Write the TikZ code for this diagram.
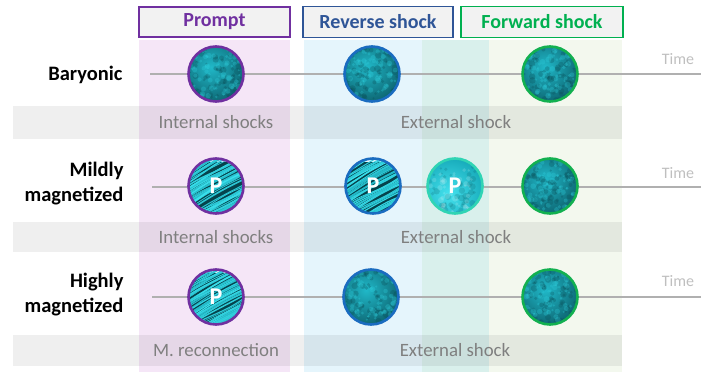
\documentclass[tikz,border=0pt]{standalone}
\usepackage{fontspec}
\setmainfont{Carlito}
\definecolor{hdrfill}{HTML}{F2F2F2}
\definecolor{cPurple}{HTML}{7030A0}
\definecolor{cBlueT}{HTML}{2F5597}
\definecolor{cGreenT}{HTML}{00B050}
\definecolor{ringPurple}{HTML}{7030A0}
\definecolor{ringBlue}{HTML}{1A6CC0}
\definecolor{ringGreen}{HTML}{12B050}
\definecolor{ringTeal}{HTML}{30D4B4}
\definecolor{bandPurple}{HTML}{F5E6F7}
\definecolor{bandBlue}{HTML}{E5F5FC}
\definecolor{bandTeal}{HTML}{D9F0EC}
\definecolor{bandGreen}{HTML}{F3F8EE}
\definecolor{labgray}{HTML}{7F7F7F}
\definecolor{timegray}{HTML}{BFBFBF}
\definecolor{linegray}{HTML}{B0B0B0}
\definecolor{cloudIn}{HTML}{20B8C8}
\definecolor{cloudOut}{HTML}{0B5C68}
\definecolor{cloudLight}{HTML}{2FD0DE}
\definecolor{brightIn}{HTML}{45E2EE}
\definecolor{brightOut}{HTML}{13A6B6}
\definecolor{fibDark}{HTML}{06434C}
\definecolor{fibLight}{HTML}{3AE0EC}
\definecolor{fibMid}{HTML}{1399AA}
\begin{document}
\begin{tikzpicture}[x=1pt,y=-1pt,
  hdr/.style={draw=#1, text=#1, line width=1.3pt, fill=hdrfill,
    font=\fontsize{20}{24}\selectfont\bfseries, inner sep=0pt},
  grayband/.style={fill=black, fill opacity=0.063, draw=none},
  glabel/.style={text=labgray, font=\fontsize{18.8}{22}\selectfont},
  rowlab/.style={font=\fontsize{20.5}{25}\selectfont\bfseries, align=right, anchor=east},
  tline/.style={line width=2.5pt, draw=linegray},
  timelab/.style={text=timegray, font=\fontsize{16}{19}\selectfont},
  ball/.style={circle, minimum size=55pt, inner sep=0pt, line width=2.6pt,
    draw=#1, text=white, font=\fontsize{24}{28}\selectfont\bfseries},
  cloudtex/.style={path picture={
    \begin{scope}[shift={(path picture bounding box.center)}]
      \fill[cloudOut] (-32,-32) rectangle (32,32);
      \shade[inner color=cloudIn, outer color=cloudOut] (-5,-7) circle (40pt);
      \foreach \k in {1,...,70}{
        \pgfmathsetmacro\bx{27*rand}\pgfmathsetmacro\by{27*rand}\pgfmathsetmacro\br{1+2.5*rnd}
        \fill[cloudOut!80!black, opacity=0.28] (\bx,\by) circle (\br pt);}
      \foreach \k in {1,...,70}{
        \pgfmathsetmacro\bx{24*rand}\pgfmathsetmacro\by{24*rand}\pgfmathsetmacro\br{1+2*rnd}
        \fill[cloudLight, opacity=0.3] (\bx,\by) circle (\br pt);}
    \end{scope}}},
  brighttex/.style={path picture={
    \begin{scope}[shift={(path picture bounding box.center)}]
      \fill[brightOut] (-32,-32) rectangle (32,32);
      \shade[inner color=brightIn, outer color=brightOut] (0,0) circle (40pt);
      \foreach \k in {1,...,60}{
        \pgfmathsetmacro\bx{27*rand}\pgfmathsetmacro\by{27*rand}\pgfmathsetmacro\br{1+2.5*rnd}
        \fill[brightOut!60!black, opacity=0.22] (\bx,\by) circle (\br pt);}
      \foreach \k in {1,...,60}{
        \pgfmathsetmacro\bx{24*rand}\pgfmathsetmacro\by{24*rand}\pgfmathsetmacro\br{1+2*rnd}
        \fill[white, opacity=0.15] (\bx,\by) circle (\br pt);}
    \end{scope}}},
  fibtex/.style={path picture={
    \begin{scope}[shift={(path picture bounding box.center)}]
      \fill[fibDark] (-32,-32) rectangle (32,32);
      \foreach \k in {1,...,80}{
        \pgfmathsetmacro\oo{-50+95*rnd}\pgfmathsetmacro\bb{-6+12*rnd}
        \pgfmathsetmacro\ww{0.5+1.3*rnd}\pgfmathsetmacro\cc{40+60*rnd}
        \draw[line width=\ww pt, fibLight!\cc!fibMid]
          (-34,\oo+24) .. controls (-10,\oo+6+\bb) and (8,\oo-2-\bb) .. (34,\oo-16);}
    \end{scope}}},
]
\useasboundingbox (0,0) rectangle (701,372);

% vertical phase bands
\fill[bandPurple] (139,40) rectangle (290,372);
\fill[bandBlue] (304,40) rectangle (422,372);
\fill[bandTeal] (422,40) rectangle (489,372);
\fill[bandGreen] (489,40) rectangle (622,372);

% headers
\node[hdr=cPurple, minimum width=151pt, minimum height=30pt] (hP) at (214.5,22) {Prompt};
\node[hdr=cBlueT, minimum width=150pt, minimum height=31pt] (hR) at (378,22) {Reverse shock};
\node[hdr=cGreenT, minimum width=162pt, minimum height=31pt] (hF) at (542,22) {Forward shock};

% gray label bands
\fill[grayband] (13,106) rectangle (622,139);
\fill[grayband] (13,222) rectangle (622,252);
\fill[grayband] (13,335) rectangle (622,366);

\node[glabel] (i1) at (216,122) {Internal shocks};
\node[glabel] (e1) at (456,122) {External shock};
\node[glabel] (i2) at (216,237) {Internal shocks};
\node[glabel] (e2) at (456,237) {External shock};
\node[glabel] (m3) at (216,350) {M. reconnection};
\node[glabel] (e3) at (455,350) {External shock};

% row labels
\node[rowlab] (rb) at (126,75) {Baryonic};
\node[rowlab] (rm) at (127,184) {Mildly\\magnetized};
\node[rowlab] (rh) at (127,295) {Highly\\magnetized};

% time axes
\coordinate (s1) at (150,74); \coordinate (t1) at (701,74);
\coordinate (s2) at (152,187); \coordinate (t2) at (701,187);
\coordinate (s3) at (152,297); \coordinate (t3) at (701,297);
\draw[tline] (s1) -- (t1);
\draw[tline] (s2) -- (t2);
\draw[tline] (s3) -- (t3);
\node[timelab] (tm1) at (678,59) {Time};
\node[timelab] (tm2) at (678,173) {Time};
\node[timelab] (tm3) at (678,281) {Time};

\pgfmathsetseed{11}
% row 1
\node[ball=ringPurple, cloudtex] (b11) at (216,74) {};
\node[ball=ringBlue, cloudtex] (b12) at (372,74) {};
\node[ball=ringGreen, cloudtex] (b13) at (550,74) {};
% row 2
\node[ball=ringPurple, fibtex] (b21) at (216,186) {P};
\node[ball=ringBlue, fibtex] (b22) at (373,186) {P};
\node[ball=ringTeal, brighttex] (b23) at (455,186) {P};
\node[ball=ringGreen, cloudtex] (b24) at (550,186) {};
% row 3
\node[ball=ringPurple, fibtex] (b31) at (216,297) {P};
\node[ball=ringBlue, cloudtex] (b32) at (371,297) {};
\node[ball=ringGreen, cloudtex] (b33) at (550,297) {};
\end{tikzpicture}
\end{document}
